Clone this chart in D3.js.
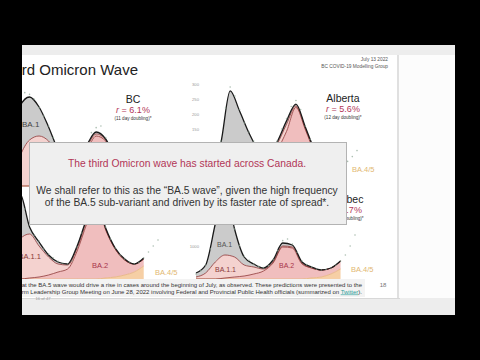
<!DOCTYPE html>
<html>
<head>
<meta charset="utf-8">
<script src="https://cdn.jsdelivr.net/npm/d3@7"></script>
<style>
  body { margin: 0; background: #000; }
  svg { display: block; font-family: "Liberation Sans", Arial, Helvetica, sans-serif; }
</style>
</head>
<body>
<div id="chart-area"></div>
<script>
// model fit dates (two-weekly) and weekly observation dates
const modelDates = ["2021-11-24", "2021-12-08", "2021-12-22", "2022-01-05", "2022-01-19", "2022-02-02",
  "2022-02-16", "2022-03-02", "2022-03-16", "2022-03-30", "2022-04-13", "2022-04-27", "2022-05-11",
  "2022-05-25", "2022-06-08", "2022-06-22"];
const obsDates = ["2021-11-24", "2021-12-01", "2021-12-08", "2021-12-15", "2021-12-22", "2021-12-29",
  "2022-01-05", "2022-01-12", "2022-01-19", "2022-01-26", "2022-02-02", "2022-02-09", "2022-02-16",
  "2022-02-23", "2022-03-02", "2022-03-09", "2022-03-16", "2022-03-23", "2022-03-30", "2022-04-06",
  "2022-04-13", "2022-04-20", "2022-04-27", "2022-05-04", "2022-05-11", "2022-05-18", "2022-05-25",
  "2022-06-01", "2022-06-08", "2022-06-15", "2022-06-22", "2022-06-29", "2022-07-06", "2022-07-13"];

const variants = ["BA45", "BA2", "BA11", "BA1"];

// BC
const bcBA45 = [0, 0, 0, 0, 0, 0, 0, 0, 0, 0, 0, 30, 60, 90, 150, 270];
const bcBA2 = [0, 0, 0, 0, 30, 90, 180, 300, 600, 1050, 1500, 1320, 720, 360, 210, 150];
const bcBA11 = [0, 60, 900, 1380, 1470, 1260, 780, 330, 180, 120, 60, 30, 30, 0, 0, 0];
const bcBA1 = [240, 1140, 1500, 1290, 870, 420, 120, 30, 60, 60, 60, 30, 30, 30, 0, 0];
const bcObs = [250, 600, 1250, 1900, 2450, 2800, 2750, 2600, 2350, 2100, 1800, 1450, 1100, 850, 700, 720,
  860, 1050, 1280, 1600, 1750, 1800, 1450, 1100, 850, 640, 500, 420, 370, 390, 450, 560, 700, 880];

// Alberta
const abBA45 = [0, 0, 0, 0, 0, 0, 0, 0, 0, 0, 0, 0, 1, 3, 7, 14];
const abBA2 = [0, 0, 0, 3, 8, 15, 25, 35, 80, 142, 222, 148, 72, 33, 19, 19];
const abBA11 = [0, 2, 20, 80, 90, 75, 45, 20, 20, 24, 5, 4, 3, 2, 1, 0];
const abBA1 = [10, 25, 83, 194, 112, 47, 10, 5, 7, 11, 6, 5, 4, 2, 0, 0];
const abObs = [12, 18, 30, 60, 110, 220, 290, 260, 215, 170, 140, 110, 85, 70, 62, 75, 110, 150, 185, 225,
  245, 215, 160, 115, 80, 55, 40, 32, 28, 28, 35, 42, 58, 78];
const abTicks = [150, 200, 250, 300];

// Ontario
const onBA45 = [0, 0, 0, 0, 0, 0, 0, 0, 0, 0, 0, 50, 100, 200, 350, 650];
const onBA2 = [0, 0, 0, 50, 100, 200, 350, 500, 1400, 2750, 3900, 2400, 1400, 750, 400, 350];
const onBA11 = [0, 250, 2000, 2200, 1550, 900, 400, 200, 150, 150, 50, 50, 0, 0, 0, 0];
const onBA1 = [1000, 2750, 2250, 350, 200, 100, 100, 50, 100, 100, 50, 50, 50, 50, 0, 50];
const onObs = [900, 1600, 2900, 3800, 4400, 3500, 2700, 2200, 1900, 1500, 1250, 1050, 880, 800, 760, 900,
  1600, 2300, 3100, 3800, 4100, 3500, 2600, 2000, 1550, 1200, 1000, 850, 760, 820, 1050, 1350, 1650, 1950];

// Quebec
const qcBA45 = [0, 0, 0, 0, 0, 0, 0, 0, 0, 0, 0, 0, 30, 60, 150, 300];
const qcBA2 = [0, 0, 0, 30, 60, 90, 150, 240, 480, 960, 930, 450, 300, 210, 180, 240];
const qcBA11 = [60, 180, 510, 690, 600, 330, 210, 60, 30, 30, 30, 30, 0, 0, 0, 0];
const qcBA1 = [120, 240, 1140, 2130, 840, 240, 90, 30, 60, 90, 60, 30, 30, 0, 0, 0];
const qcObs = [150, 250, 420, 900, 1700, 2700, 2900, 2500, 1500, 1000, 680, 560, 450, 380, 340, 400, 580,
  850, 1150, 1200, 1050, 800, 540, 430, 360, 300, 270, 290, 330, 420, 540, 720, 990, 1320];
const qcTicks = [1000];

const parse = d3.timeParse("%Y-%m-%d");

const width = 480;
const height = 360;

const fills = {BA45: "#f6cfa5", BA2: "#f0bebe", BA11: "#f4d2cf", BA1: "#cbcbcb"};
const edges = {BA45: "#e6b47e", BA2: "#8e3434", BA11: "#8e3434", BA1: "#1a1a1a"};
const crimson = "#b23657";
const gold = "#e2b872";
const darkRed = "#8a3838";

// Ontario's name sits behind the message box, so it is left out
const panels = [
  {name: "BC", rate: "6.1%", doubling: "(11 day doubling)*", series: [bcBA45, bcBA2, bcBA11, bcBA1], obs: bcObs,
    xRange: [1, 158], yRange: [186, 86], yMax: 3000, textX: 133, textY: 103,
    labels: [{t: "BA.1", x: 22, y: 127, c: "#444", s: 8}]},
  {name: "Alberta", rate: "5.6%", doubling: "(12 day doubling)*", series: [abBA45, abBA2, abBA11, abBA1], obs: abObs,
    xRange: [202, 357], yRange: [174, 84], yMax: 300, textX: 343, textY: 102, ticks: abTicks, axisX: 199,
    labels: [{t: "BA.4/5", x: 352, y: 172, c: gold, s: 7.5}]},
  {name: null, series: [onBA45, onBA2, onBA11, onBA1], obs: onObs,
    xRange: [1, 158], yRange: [279, 179], yMax: 5000,
    labels: [{t: "BA.1.1", x: 41, y: 259, c: darkRed, s: 7.5, a: "end"},
      {t: "BA.2", x: 92, y: 268, c: "#a8344a", s: 7.5},
      {t: "BA.4/5", x: 155, y: 275, c: gold, s: 7.5}]},
  {name: "Quebec", rate: "4.7%", doubling: "(15 day doubling)*", series: [qcBA45, qcBA2, qcBA11, qcBA1], obs: qcObs,
    xRange: [196, 355], yRange: [279, 179], yMax: 3000, textX: 345, textY: 203, ticks: qcTicks, axisX: 199,
    labels: [{t: "BA.1", x: 217, y: 247, c: "#555", s: 7},
      {t: "BA.1.1", x: 215, y: 272, c: darkRed, s: 7},
      {t: "BA.2", x: 279, y: 268, c: "#a8344a", s: 7},
      {t: "BA.4/5", x: 351, y: 272, c: gold, s: 7.5}]}
];

let svg = d3.select("#chart-area").append("svg")
  .attr("width", width)
  .attr("height", height);

// viewer background and slide page
svg.append("rect").attr("width", width).attr("height", height).attr("fill", "#000");
svg.append("rect").attr("x", 22).attr("y", 45).attr("width", 433).attr("height", 270).attr("fill", "#ededed");
svg.append("rect").attr("x", 22).attr("y", 55).attr("width", 375).attr("height", 243).attr("fill", "#fff");
svg.append("rect").attr("x", 399).attr("y", 55).attr("width", 56).attr("height", 243).attr("fill", "#fcfcfc");
svg.append("line").attr("x1", 398).attr("x2", 398).attr("y1", 55).attr("y2", 298)
  .attr("stroke", "#e0e0e0").attr("stroke-width", 2);

// title and header
svg.append("text")
  .attr("x", 138).attr("y", 75)
  .attr("text-anchor", "end")
  .attr("font-size", 15)
  .attr("fill", "#222")
  .text("Third Omicron Wave");

svg.append("text")
  .attr("x", 388).attr("y", 61)
  .attr("text-anchor", "end")
  .attr("font-size", 4.8)
  .attr("fill", "#555")
  .text("July 13 2022");
svg.append("text")
  .attr("x", 388).attr("y", 67.5)
  .attr("text-anchor", "end")
  .attr("font-size", 4.8)
  .attr("fill", "#555")
  .text("BC COVID-19 Modelling Group");

// draw each province panel
panels.forEach((p) => {
  const x = d3.scaleTime()
    .domain([parse(obsDates[0]), parse(obsDates[obsDates.length - 1])])
    .range(p.xRange);
  const y = d3.scaleLinear()
    .domain([0, p.yMax])
    .range(p.yRange);

  const table = modelDates.map((d, i) => {
    let row = {date: parse(d)};
    variants.forEach((k, j) => { row[k] = p.series[j][i]; });
    return row;
  });
  const stacked = d3.stack().keys(variants)(table);

  const area = d3.area()
    .x((d) => x(d.data.date))
    .y0((d) => y(d[0]))
    .y1((d) => y(d[1]))
    .curve(d3.curveMonotoneX);
  const edge = d3.line()
    .x((d) => x(d.data.date))
    .y((d) => y(d[1]))
    .curve(d3.curveMonotoneX);

  let g = svg.append("g").attr("class", "panel");

  g.selectAll("path.layer").data(stacked).enter().append("path")
    .attr("class", "layer")
    .attr("d", area)
    .attr("fill", (d) => fills[d.key]);

  g.selectAll("path.edge").data(stacked).enter().append("path")
    .attr("class", "edge")
    .attr("d", edge)
    .attr("fill", "none")
    .attr("stroke", (d) => edges[d.key])
    .attr("stroke-width", (d) => d.key === "BA1" ? 1.3 : 0.8);

  // observed daily cases
  g.selectAll("circle").data(p.obs).enter().append("circle")
    .attr("cx", (d, i) => x(parse(obsDates[i])))
    .attr("cy", (d) => y(d))
    .attr("r", 0.8)
    .attr("fill", "#8fa897")
    .attr("opacity", 0.75);

  if (p.ticks) {
    let yAxisCall = d3.axisLeft(y).tickValues(p.ticks).tickSize(0).tickPadding(0).tickFormat(d3.format("d"));
    let ax = g.append("g")
      .attr("class", "y-axis")
      .attr("transform", `translate(${p.axisX}, 0)`)
      .call(yAxisCall);
    ax.select(".domain").remove();
    ax.selectAll("text").attr("font-size", 4.2).attr("fill", "#999").attr("font-family", null);
  }

  // province name and growth rate
  if (p.name) {
    g.append("text")
      .attr("x", p.textX).attr("y", p.textY)
      .attr("text-anchor", "middle")
      .attr("font-size", 10.5)
      .attr("fill", "#222")
      .text(p.name);
    let r = g.append("text")
      .attr("x", p.textX).attr("y", p.textY + 10)
      .attr("text-anchor", "middle")
      .attr("font-size", 9)
      .attr("fill", crimson);
    r.append("tspan").attr("font-style", "italic").text("r");
    r.append("tspan").text(" = " + p.rate);
    g.append("text")
      .attr("x", p.textX).attr("y", p.textY + 17)
      .attr("text-anchor", "middle")
      .attr("font-size", 4.6)
      .attr("fill", "#333")
      .text(p.doubling);
  }

  g.selectAll("text.variant").data(p.labels).enter().append("text")
    .attr("class", "variant")
    .attr("x", (d) => d.x).attr("y", (d) => d.y)
    .attr("text-anchor", (d) => d.a || "start")
    .attr("font-size", (d) => d.s)
    .attr("fill", (d) => d.c)
    .text((d) => d.t);
});

// caption under the charts
svg.append("rect").attr("x", 22).attr("y", 279).attr("width", 343).attr("height", 18).attr("fill", "#f3f3f3");
svg.append("text")
  .attr("x", 362).attr("y", 286.5)
  .attr("text-anchor", "end")
  .attr("font-size", 6)
  .attr("fill", "#333")
  .text("Our model predicted that the BA.5 wave would drive a rise in cases around the beginning of July, as observed. These predictions were presented to the");
let cap2 = svg.append("text")
  .attr("x", 362).attr("y", 293.5)
  .attr("text-anchor", "end")
  .attr("font-size", 6)
  .attr("fill", "#333");
cap2.append("tspan").text("Short-Term Leadership Group Meeting on June 28, 2022 involving Federal and Provincial Public Health officials (summarized on ");
cap2.append("tspan").attr("fill", "#2a9d9a").attr("text-decoration", "underline").text("Twitter");
cap2.append("tspan").text(").");

svg.append("text")
  .attr("x", 383).attr("y", 287)
  .attr("text-anchor", "middle")
  .attr("font-size", 6)
  .attr("fill", "#777")
  .text("18");

// page separator
svg.append("line").attr("x1", 22).attr("x2", 400).attr("y1", 298.5).attr("y2", 298.5)
  .attr("stroke", "#d8d8d8").attr("stroke-width", 1);
svg.append("text")
  .attr("x", 43).attr("y", 300)
  .attr("text-anchor", "middle")
  .attr("font-size", 4.2)
  .attr("fill", "#999")
  .text("16 of 47");

// overlay message box
let box = svg.append("g");
box.append("rect")
  .attr("x", 29.5).attr("y", 142.5)
  .attr("width", 317).attr("height", 82)
  .attr("fill", "#efefef")
  .attr("stroke", "#b3b3b3");
box.append("text")
  .attr("x", 187).attr("y", 167)
  .attr("text-anchor", "middle")
  .attr("font-size", 10.3)
  .attr("fill", crimson)
  .text("The third Omicron wave has started across Canada.");
box.append("text")
  .attr("x", 187).attr("y", 193.5)
  .attr("text-anchor", "middle")
  .attr("font-size", 10.3)
  .attr("fill", "#333")
  .text("We shall refer to this as the \u201cBA.5 wave\u201d, given the high frequency");
box.append("text")
  .attr("x", 187).attr("y", 206)
  .attr("text-anchor", "middle")
  .attr("font-size", 10.3)
  .attr("fill", "#333")
  .text("of the BA.5 sub-variant and driven by its faster rate of spread*.");

// black video frame
svg.append("rect").attr("x", 0).attr("y", 0).attr("width", width).attr("height", 45).attr("fill", "#000");
svg.append("rect").attr("x", 0).attr("y", 315).attr("width", width).attr("height", 45).attr("fill", "#000");
svg.append("rect").attr("x", 0).attr("y", 0).attr("width", 22).attr("height", height).attr("fill", "#000");
svg.append("rect").attr("x", 455).attr("y", 0).attr("width", 25).attr("height", height).attr("fill", "#000");
</script>
</body>
</html>
